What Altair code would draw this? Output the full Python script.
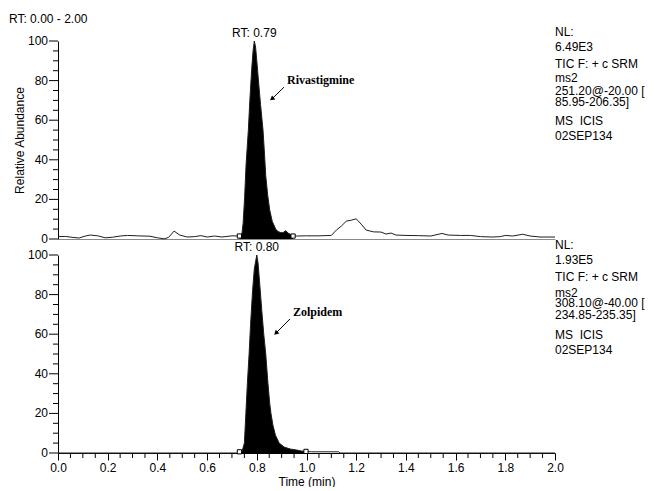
import altair as alt
import pandas as pd

# ---------------- data ----------------
riv_time = [0.00, 0.03, 0.06, 0.085, 0.11, 0.13, 0.16, 0.19, 0.22, 0.25, 0.28, 0.32, 0.37, 0.40,
            0.427, 0.445, 0.467, 0.49, 0.52, 0.55, 0.575, 0.60, 0.63, 0.66, 0.70, 0.73, 0.74,
            0.745, 0.751, 0.757, 0.766, 0.772, 0.779, 0.785, 0.79, 0.795, 0.80, 0.808, 0.815,
            0.825, 0.83, 0.836, 0.844, 0.852, 0.862, 0.876, 0.885, 0.895, 0.905, 0.917, 0.925,
            0.935, 0.946, 0.96, 1.00, 1.05, 1.10, 1.12, 1.14, 1.16, 1.18, 1.20, 1.22, 1.24, 1.27,
            1.30, 1.32, 1.34, 1.36, 1.40, 1.45, 1.50, 1.545, 1.57, 1.62, 1.66, 1.70, 1.75, 1.78,
            1.80, 1.83, 1.87, 1.90, 1.94, 2.00]
riv_abund = [1.2, 1.3, 0.8, 0.5, 1.5, 2.0, 1.6, 0.6, 0.9, 1.5, 1.8, 1.6, 1.4, 0.6,
             0.1, 0.8, 4.0, 2.0, 1.0, 1.2, 1.7, 1.0, 1.5, 1.0, 1.6, 1.5, 2.5,
             8.0, 21.0, 38.0, 55.0, 70.0, 85.0, 95.0, 100.0, 97.0, 90.0, 78.0, 68.0,
             55.0, 45.0, 32.0, 22.0, 14.6, 9.0, 5.0, 3.8, 3.3, 3.2, 4.2, 3.0,
             2.4, 1.5, 1.5, 1.6, 1.6, 1.8, 4.5, 6.5, 9.0, 9.5, 10.2, 7.5, 4.5, 3.6,
             3.5, 2.5, 3.0, 2.0, 1.8, 1.7, 1.5, 2.8, 2.0, 1.8, 1.8, 1.2, 1.0, 1.2,
             1.8, 1.5, 2.4, 1.5, 1.0, 1.0]
riv_peak = [0.73, 0.946]
riv_boxes_t = [0.73, 0.946]
riv_boxes_v = [1.5, 1.5]

zol_time = [0.00, 0.72, 0.73, 0.74, 0.75, 0.756, 0.762, 0.769, 0.775, 0.783, 0.79, 0.80, 0.805,
            0.812, 0.82, 0.828, 0.836, 0.845, 0.852, 0.857, 0.865, 0.875, 0.89, 0.91, 0.935,
            0.96, 0.98, 0.998, 1.02, 1.13, 1.135, 2.00]
zol_abund = [0.0, 0.0, 0.3, 0.5, 5.0, 20.0, 35.0, 50.0, 65.0, 82.0, 93.0, 100.0, 96.0,
             85.0, 72.0, 60.0, 50.0, 35.0, 25.0, 20.0, 14.0, 9.0, 5.0, 3.0, 2.0,
             1.5, 1.0, 0.8, 0.6, 0.6, 0.0, 0.0]
zol_peak = [0.73, 0.998]
zol_boxes_t = [0.73, 0.998]
zol_boxes_v = [0.6, 0.8]

riv_info = ["NL:", "6.49E3", "TIC F: + c SRM", "ms2", "251.20@-20.00 [", "85.95-206.35]",
            "MS\u00a0\u00a0ICIS", "02SEP134"]
riv_info_v = [102.4, 94.8, 86.5, 79.3, 72.6, 67.0, 57.5, 50.2]
zol_info = ["NL:", "1.93E5", "TIC F: + c SRM", "ms2", "308.10@-40.00 [", "234.85-235.35]",
            "MS\u00a0\u00a0ICIS", "02SEP134"]
zol_info_v = [103.0, 95.5, 86.9, 78.8, 73.7, 67.7, 57.6, 50.0]

y_major = [0, 20, 40, 60, 80, 100]
y_minor = [v for v in range(0, 101, 5) if v % 20 != 0]
x_major = [0.0, 0.2, 0.4, 0.6, 0.8, 1.0, 1.2, 1.4, 1.6, 1.8, 2.0]
x_minor = [round(i * 0.05, 2) for i in range(41) if i % 4 != 0]

riv_rt = {"t": 0.79, "label": "RT: 0.79"}
zol_rt = {"t": 0.80, "label": "RT: 0.80"}
riv_name = {"t": 0.9215, "v": 78.2, "label": "Rivastigmine"}
zol_name = {"t": 0.9457, "v": 69.2, "label": "Zolpidem"}
riv_arrow = {"t": 0.9095, "v": 76.7, "t2": 0.863, "v2": 71.0}
zol_arrow = {"t": 0.9336, "v": 67.7, "t2": 0.879, "v2": 60.8}
riv_arrow_angle = 232
zol_arrow_angle = 226

FONT = "Liberation Sans"
W, H = 497, 198


def panel(times, vals, peak, boxes_t, boxes_v, rt, name, arrow, angle, info, info_v,
          top):
    df = pd.DataFrame({"t": times, "v": vals})
    pk = df[(df.t >= peak[0] - 1e-9) & (df.t <= peak[1] + 1e-9)]

    if top:
        xaxis = alt.Axis(labels=False, ticks=False, title=None, domainColor="#8a8a8a",
                         grid=False)
        ytitle = "Relative Abundance"
    else:
        xaxis = alt.Axis(values=x_major, format=".1f", tickSize=7,
                         title="Time (min)", grid=False, labelFlush=False,
                         labelOverlap=False, domainColor="black", tickColor="black",
                         labelPadding=2, titlePadding=3)
        ytitle = None

    yaxis = alt.Axis(labels=False, ticks=False, title=ytitle, grid=False,
                     domainColor="black", titlePadding=32)

    x = alt.X("t:Q", scale=alt.Scale(domain=[0, 2], nice=False, zero=False), axis=xaxis)
    y = alt.Y("v:Q", scale=alt.Scale(domain=[0, 100], nice=False), axis=yaxis)

    area = alt.Chart(pk).mark_area(color="black", interpolate="linear").encode(x=x, y=y)
    line = alt.Chart(df).mark_line(color="#1e1e1e", strokeWidth=1).encode(x="t:Q", y="v:Q")
    boxes = alt.Chart(pd.DataFrame({"t": boxes_t, "v": boxes_v})).mark_point(
        shape="square", size=18, filled=True, fill="white", stroke="black",
        strokeWidth=1, opacity=1).encode(x="t:Q", y="v:Q")
    rt_text = alt.Chart(pd.DataFrame({"t": [rt["t"]], "v": [100], "label": [rt["label"]]})).mark_text(
        font=FONT, fontSize=12, color="black", baseline="alphabetic", dy=-4, align="center"
    ).encode(x="t:Q", y="v:Q", text="label:N")
    name_text = alt.Chart(pd.DataFrame({"t": [name["t"]], "v": [name["v"]], "label": [name["label"]]})).mark_text(
        font="Liberation Serif", fontSize=12, fontWeight="bold", color="black",
        baseline="alphabetic", align="left"
    ).encode(x="t:Q", y="v:Q", text="label:N")
    adf = pd.DataFrame({"t": [arrow["t"]], "v": [arrow["v"]], "t2": [arrow["t2"]], "v2": [arrow["v2"]]})
    arrow_line = alt.Chart(adf).mark_rule(color="black", strokeWidth=1).encode(
        x="t:Q", y="v:Q", x2="t2:Q", y2="v2:Q")
    arrow_head = alt.Chart(pd.DataFrame({"t": [arrow["t2"]], "v": [arrow["v2"]]})).mark_point(
        shape="triangle", size=28, filled=True, color="black", opacity=1, angle=angle
    ).encode(x="t:Q", y="v:Q")
    info_text = alt.Chart(pd.DataFrame({"t": [2.0] * len(info), "v": info_v, "label": info})).mark_text(
        font=FONT, fontSize=12, color="black", baseline="alphabetic", align="left", dx=0
    ).encode(x="t:Q", y="v:Q", text="label:N")
    # y axis ticks and labels
    ymaj_df = pd.DataFrame({"v": y_major, "label": [str(v) for v in y_major]})
    ymajor = alt.Chart(ymaj_df).mark_rule(color="black", strokeWidth=1).encode(
        y="v:Q", x=alt.value(-9), x2=alt.value(0))
    ylabels = alt.Chart(ymaj_df).mark_text(
        font=FONT, fontSize=12, color="black", align="right", baseline="middle"
    ).encode(y="v:Q", x=alt.value(-10), text="label:N")
    yminor = alt.Chart(pd.DataFrame({"v": y_minor})).mark_rule(color="black", strokeWidth=1).encode(
        y="v:Q", x=alt.value(-5), x2=alt.value(0))

    layers = [area, line, boxes, rt_text, name_text, arrow_line, arrow_head, info_text,
              ymajor, ylabels, yminor]
    if top:
        head = alt.Chart(pd.DataFrame({"label": ["RT: 0.00 - 2.00"]})).mark_text(
            font=FONT, fontSize=12, color="black", baseline="middle", align="left"
        ).encode(x=alt.value(-49), y=alt.value(-22), text="label:N")
        layers.append(head)
    else:
        xminor = alt.Chart(pd.DataFrame({"t": x_minor})).mark_rule(color="black", strokeWidth=1).encode(
            x="t:Q", y=alt.value(H), y2=alt.value(H + 5))
        layers.append(xminor)
    return alt.layer(*layers).properties(width=W, height=H)


top = panel(riv_time, riv_abund, riv_peak, riv_boxes_t, riv_boxes_v, riv_rt, riv_name,
            riv_arrow, riv_arrow_angle, riv_info, riv_info_v, True)
bottom = panel(zol_time, zol_abund, zol_peak, zol_boxes_t, zol_boxes_v, zol_rt, zol_name,
               zol_arrow, zol_arrow_angle, zol_info, zol_info_v, False)

chart = alt.vconcat(top, bottom, spacing=16, bounds="flush").properties(
    padding={"left": 1, "top": 5, "right": 0, "bottom": 0},
    background="white"
).configure_view(stroke=None).configure_axis(
    labelFont=FONT, titleFont=FONT, labelFontSize=12, titleFontSize=12,
    titleFontWeight="normal", labelColor="black", titleColor="black"
)

chart.save("out.html", embed_options={"renderer": "svg", "actions": False})
